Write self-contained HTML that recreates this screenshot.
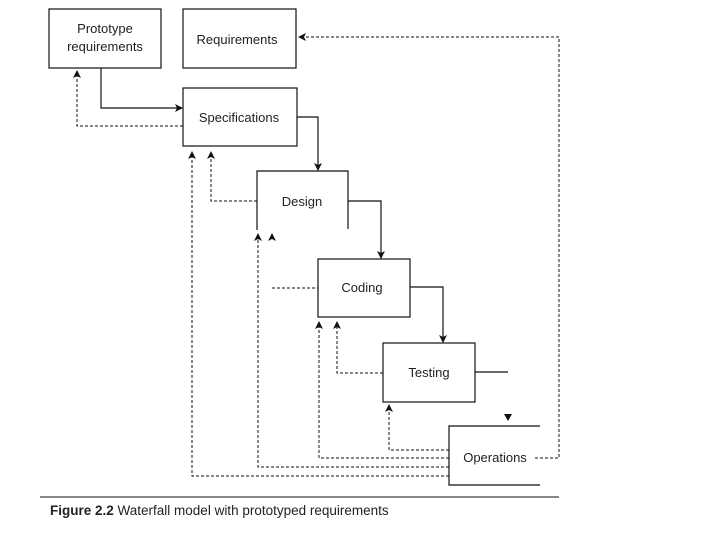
<!DOCTYPE html>
<html><head><meta charset="utf-8"><style>
html,body{margin:0;padding:0;background:#fff;}
svg{display:block;}
text{font-family:"Liberation Sans",sans-serif;fill:#222;font-size:13px;}
</style></head><body>
<svg width="720" height="540" viewBox="0 0 720 540" xmlns="http://www.w3.org/2000/svg">
<defs>
<marker id="a" markerWidth="8" markerHeight="8" refX="7" refY="4" orient="auto" markerUnits="userSpaceOnUse">
<path d="M0,0 L8,4 L0,8 L2,4 Z" fill="#111"/></marker>
</defs>
<g fill="none" stroke="#111" stroke-width="1.2">
<rect x="49" y="9" width="112" height="59"/>
<rect x="183" y="9" width="113" height="59"/>
<rect x="183" y="88" width="114" height="58"/>
<polyline points="257,230 257,171 348,171 348,229"/>
<rect x="318" y="259" width="92" height="58"/>
<rect x="383" y="343" width="92" height="59"/>
<polyline points="540,426 449,426 449,485 540,485"/>
<polyline points="101,68 101,108 182,108" marker-end="url(#a)"/>
<polyline points="297,117 318,117 318,170" marker-end="url(#a)"/>
<polyline points="348,201 381,201 381,258" marker-end="url(#a)"/>
<polyline points="410,287 443,287 443,342" marker-end="url(#a)"/>
<line x1="475" y1="372" x2="508" y2="372"/>
<line x1="40" y1="497" x2="559" y2="497" stroke-width="1"/>
</g>
<path d="M504,414 L512,414 L508,421 Z" fill="#111"/>
<g fill="none" stroke="#111" stroke-width="1" stroke-dasharray="3,2">
<polyline points="183,126 77,126 77,71" marker-end="url(#a)"/>
<polyline points="257,201 211,201 211,152" marker-end="url(#a)"/>
<polyline points="449,476 192,476 192,152" marker-end="url(#a)"/>
<polyline points="449,467 258,467 258,234" marker-end="url(#a)"/>
<line x1="272" y1="288" x2="318" y2="288"/>
<polyline points="449,458 319,458 319,322" marker-end="url(#a)"/>
<polyline points="383,373 337,373 337,322" marker-end="url(#a)"/>
<polyline points="449,450 389,450 389,405" marker-end="url(#a)"/>
<polyline points="535,458 559,458 559,37 299,37" marker-end="url(#a)"/>
</g>
<path d="M268,241 L272,233 L276,241 L272,239 Z" fill="#111"/>
<text x="105" y="33" text-anchor="middle">Prototype</text>
<text x="105" y="51" text-anchor="middle">requirements</text>
<text x="237" y="44" text-anchor="middle">Requirements</text>
<text x="239" y="122" text-anchor="middle">Specifications</text>
<text x="302" y="206" text-anchor="middle">Design</text>
<text x="362" y="292" text-anchor="middle">Coding</text>
<text x="429" y="377" text-anchor="middle">Testing</text>
<text x="495" y="462" text-anchor="middle">Operations</text>
<text x="50" y="515" style="font-size:13.5px"><tspan font-weight="bold">Figure 2.2</tspan>  Waterfall model with prototyped requirements</text>
</svg>
</body></html>
